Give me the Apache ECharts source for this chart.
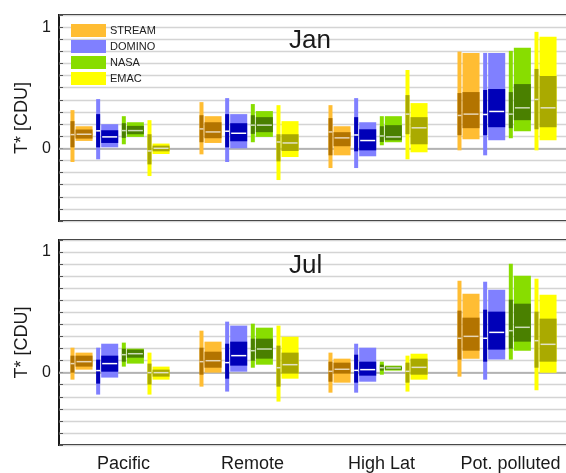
<!DOCTYPE html>
<html>
<head>
<meta charset="utf-8">
<script src="https://cdn.jsdelivr.net/npm/echarts@6/dist/echarts.min.js"></script>
<style>
  html, body { margin: 0; padding: 0; background: #fff; overflow: hidden; }
  /* canvas is a bit wider than the window so the plot's right edge falls outside */
  #chart { width: 584px; height: 473px; }
</style>
</head>
<body>
<div id="chart"></div>
<script>
// Regions on the x axis and the four data products
const regions = ['Pacific', 'Remote', 'High Lat', 'Pot. polluted'];
const models = ['STREAM', 'DOMINO', 'NASA', 'EMAC'];
const monthTitles = ['Jan', 'Jul'];

// Each entry per region: [min, q1, median, q3, max]
// "Narrow" = thin bar, "Wide" = broad box
const janStreamNarrow = [[-0.113, 0.008, 0.113, 0.224, 0.315], [-0.050, 0.050, 0.160, 0.273, 0.381], [-0.163, -0.058, 0.135, 0.249, 0.356], [-0.017, 0.108, 0.271, 0.456, 0.798]];
const janStreamWide   = [[0.061, 0.080, 0.116, 0.155, 0.182], [0.044, 0.083, 0.135, 0.215, 0.265], [-0.058, 0.017, 0.086, 0.133, 0.182], [0.075, 0.166, 0.282, 0.464, 0.787]];
const janDominoNarrow = [[-0.091, 0.008, 0.144, 0.282, 0.406], [-0.113, 0.008, 0.141, 0.282, 0.414], [-0.163, -0.025, 0.110, 0.257, 0.414], [-0.058, 0.108, 0.279, 0.481, 0.787]];
const janDominoWide   = [[0.008, 0.044, 0.094, 0.149, 0.199], [0.000, 0.058, 0.124, 0.207, 0.282], [-0.066, -0.017, 0.064, 0.157, 0.215], [0.066, 0.174, 0.304, 0.489, 0.787]];
const janNasaNarrow   = [[0.033, 0.086, 0.146, 0.207, 0.265], [0.050, 0.119, 0.191, 0.273, 0.365], [0.025, 0.052, 0.102, 0.182, 0.265], [0.083, 0.166, 0.282, 0.464, 0.804]];
const janNasaWide     = [[0.094, 0.116, 0.146, 0.185, 0.215], [0.094, 0.133, 0.191, 0.257, 0.307], [0.050, 0.066, 0.094, 0.191, 0.265], [0.141, 0.232, 0.334, 0.530, 0.829]];
const janEmacNarrow   = [[-0.229, -0.133, -0.022, 0.116, 0.232], [-0.262, -0.108, 0.052, 0.116, 0.356], [-0.091, 0.116, 0.282, 0.439, 0.646], [-0.017, 0.157, 0.403, 0.655, 0.961]];
const janEmacWide     = [[-0.047, -0.025, 0.000, 0.022, 0.039], [-0.072, -0.022, 0.044, 0.116, 0.224], [-0.033, 0.033, 0.169, 0.257, 0.373], [0.066, 0.174, 0.334, 0.597, 0.920]];

const julStreamNarrow = [[-0.058, 0.000, 0.075, 0.141, 0.207], [-0.116, -0.017, 0.091, 0.207, 0.348], [-0.166, -0.075, 0.011, 0.091, 0.166], [-0.033, 0.108, 0.285, 0.514, 0.762]];
const julStreamWide   = [[0.025, 0.050, 0.091, 0.141, 0.166], [0.000, 0.041, 0.099, 0.174, 0.257], [-0.083, -0.008, 0.028, 0.083, 0.116], [0.116, 0.182, 0.301, 0.456, 0.655]];
const julDominoNarrow = [[-0.182, -0.091, 0.017, 0.108, 0.207], [-0.157, -0.050, 0.083, 0.240, 0.423], [-0.166, -0.083, 0.019, 0.149, 0.240], [-0.058, 0.091, 0.285, 0.522, 0.754]];
const julDominoWide   = [[-0.041, 0.008, 0.075, 0.141, 0.240], [0.008, 0.058, 0.141, 0.257, 0.390], [-0.075, -0.025, 0.025, 0.091, 0.207], [0.108, 0.191, 0.334, 0.506, 0.688]];
const julNasaNarrow   = [[0.050, 0.091, 0.149, 0.199, 0.249], [0.041, 0.099, 0.182, 0.282, 0.406], [-0.017, 0.017, 0.041, 0.066, 0.091], [0.108, 0.199, 0.348, 0.605, 0.903]];
const julNasaWide     = [[0.075, 0.124, 0.157, 0.191, 0.199], [0.066, 0.116, 0.196, 0.282, 0.373], [0.017, 0.025, 0.039, 0.050, 0.058], [0.182, 0.257, 0.376, 0.572, 0.804]];
const julEmacNarrow   = [[-0.182, -0.099, 0.000, 0.075, 0.166], [-0.240, -0.116, 0.041, 0.224, 0.390], [-0.157, -0.083, 0.011, 0.083, 0.141], [-0.146, 0.041, 0.265, 0.506, 0.779]];
const julEmacWide     = [[-0.058, -0.033, 0.000, 0.025, 0.050], [-0.050, -0.008, 0.066, 0.166, 0.298], [-0.058, -0.017, 0.044, 0.116, 0.157], [0.000, 0.091, 0.235, 0.448, 0.646]];

const panels = [
  [[janStreamNarrow, janStreamWide], [janDominoNarrow, janDominoWide], [janNasaNarrow, janNasaWide], [janEmacNarrow, janEmacWide]],
  [[julStreamNarrow, julStreamWide], [julDominoNarrow, julDominoWide], [julNasaNarrow, julNasaWide], [julEmacNarrow, julEmacWide]]
];

// light / dark / median colours per product
const palette = [
  { light: '#FFBD33', dark: '#B37400', med: '#E8D6B4' },
  { light: '#8080FF', dark: '#0000B8', med: '#FFFFFF' },
  { light: '#88DD00', dark: '#4A8000', med: '#CCDCB8' },
  { light: '#FFFF00', dark: '#AAAA00', med: '#E2E2C4' }
];

function makeRenderer(k) {
  const c = palette[k];
  return function (params, api) {
    const xi = api.value(0);
    const xc = api.coord([xi, 0])[0];
    const band = api.size([1, 0])[0];
    const x0 = xc - band / 2 + band * 0.089 + k * band * 0.199;
    const thinW = band * 0.031, wideX = x0 + thinW + band * 0.008, wideW = band * 0.132;
    const y = i => api.coord([xi, api.value(i)])[1];
    const rect = (x, w, yTop, yBot, fill) => ({
      type: 'rect', shape: { x: x, y: yTop, width: w, height: Math.max(yBot - yTop, 0.5) },
      style: { fill: fill }
    });
    const line = (x1, x2, yy) => ({
      type: 'line', shape: { x1: x1, y1: yy, x2: x2, y2: yy },
      style: { stroke: c.med, lineWidth: 1.5 }
    });
    return {
      type: 'group',
      children: [
        rect(x0, thinW, y(5), y(1), c.light),
        rect(x0, thinW, y(4), y(2), c.dark),
        line(x0, x0 + thinW, y(3)),
        rect(wideX, wideW, y(10), y(6), c.light),
        rect(wideX, wideW, y(9), y(7), c.dark),
        line(wideX + 1, wideX + wideW - 1, y(8))
      ]
    };
  };
}

// plot area runs past the right edge of the visible window
const gridTops = [15, 240];
const grids = gridTops.map(t => ({
  left: 59, width: 516, top: t, height: 206,
  show: true, borderColor: '#1a1a1a', borderWidth: 2, backgroundColor: 'transparent'
}));

const xAxes = [0, 1].map(p => ({
  type: 'category', gridIndex: p, data: regions,
  axisLine: { show: false }, axisTick: { show: false },
  axisLabel: { show: p === 1, interval: 0, fontSize: 18, color: '#1a1a1a', fontFamily: 'Liberation Sans, Arial, sans-serif', margin: 10 },
  splitLine: { show: false }
}));

const yAxes = [0, 1].map(p => ({
  type: 'value', gridIndex: p, min: -0.6, max: 1.1, interval: 0.1,
  name: 'T* [CDU]', nameLocation: 'middle', nameGap: 27,
  nameTextStyle: { fontSize: 18, color: '#1a1a1a', fontFamily: 'Liberation Sans, Arial, sans-serif' },
  axisLine: { show: false },
  axisTick: { show: true, inside: true, length: 4, lineStyle: { color: '#555', width: 1 } },
  axisLabel: {
    fontSize: 16, color: '#1a1a1a', margin: 8, fontFamily: 'Liberation Sans, Arial, sans-serif',
    formatter: v => (Math.abs(v - 1) < 1e-6 ? '1' : (Math.abs(v) < 1e-6 ? '0' : ''))
  },
  splitLine: { show: true, lineStyle: { color: '#D4D4D4', width: 1.3 } }
}));

const series = [];
panels.forEach((panel, p) => {
  panel.forEach((pair, k) => {
    const [narrow, wide] = pair;
    const data = regions.map((r, i) => [i].concat(narrow[i], wide[i]));
    const s = {
      type: 'custom', name: models[k], xAxisIndex: p, yAxisIndex: p,
      itemStyle: { color: palette[k].light },
      renderItem: makeRenderer(k),
      encode: { x: 0, y: [1, 5, 6, 10] },
      data: data, silent: true, z: 3
    };
    if (k === 0) {
      s.markLine = {
        silent: true, symbol: 'none', label: { show: false },
        lineStyle: { color: '#A8A8A8', width: 1.5, type: 'solid' },
        data: [{ yAxis: 0 }], z: 1
      };
    }
    series.push(s);
  });
});

const chart = echarts.init(document.getElementById('chart'), null, { renderer: 'canvas' });
chart.setOption({
  animation: false,
  backgroundColor: '#fff',
  title: monthTitles.map((t, p) => ({
    text: t, left: 289, top: gridTops[p] + 13, padding: 0,
    textStyle: { fontSize: 26, fontWeight: 'normal', color: '#1a1a1a', fontFamily: 'Liberation Sans, Arial, sans-serif' }
  })),
  legend: {
    data: models, orient: 'vertical', left: 71, top: 24, padding: 0,
    icon: 'rect', itemWidth: 35, itemHeight: 13, itemGap: 3,
    selectedMode: false,
    textStyle: { fontSize: 11, color: '#222', fontFamily: 'Liberation Sans, Arial, sans-serif', padding: [0, 0, 0, -1] }
  },
  grid: grids,
  xAxis: xAxes,
  yAxis: yAxes,
  series: series
});
</script>
</body>
</html>
